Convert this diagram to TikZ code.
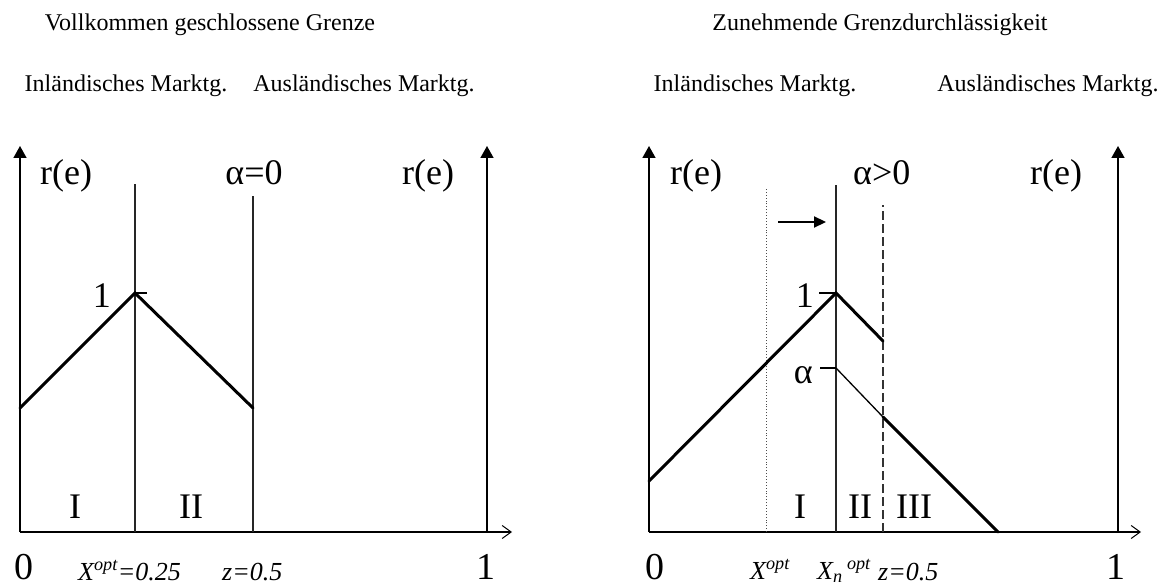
\documentclass[tikz,border=0pt]{standalone}
\usepackage{fontspec}
\setmainfont{Liberation Serif}
\usetikzlibrary{arrows.meta}
\begin{document}
\begin{tikzpicture}[x=1pt,y=-1pt,
  hdr/.style={inner sep=0pt, anchor=base, font=\fontsize{24}{28}\selectfont},
  big/.style={inner sep=0pt, anchor=base, font=\fontsize{36}{40}\selectfont},
  huge/.style={inner sep=0pt, anchor=base, font=\fontsize{38}{42}\selectfont},
  ital/.style={inner sep=0pt, anchor=base west, font=\fontsize{26}{30}\selectfont\itshape},
  yaxis/.style={line width=1.6pt, -{Triangle[length=12pt,width=13pt]}},
  xaxis/.style={line width=1.4pt, -{Straight Barb[length=9pt,width=13pt,line width=1pt]}},
  divider/.style={line width=1.4pt, black!85},
  tick/.style={line width=1.2pt},
  curve/.style={line width=3pt, line cap=round},
  thinc/.style={line width=1.3pt}]
\useasboundingbox (0,0) rectangle (1165,588);

% ---------- headers ----------
\node[hdr] (h1) at (210,31) {Vollkommen geschlossene Grenze};
\node[hdr] (h2) at (126,92) {Inländisches Marktg.};
\node[hdr] (h3) at (364,92) {Ausländisches Marktg.};
\node[hdr] (h4) at (880,31) {Zunehmende Grenzdurchlässigkeit};
\node[hdr] (h5) at (755,92) {Inländisches Marktg.};
\node[hdr] (h6) at (1048,92) {Ausländisches Marktg.};

% ---------- left diagram ----------
\coordinate (LO) at (20,532);
\coordinate (LT) at (20,146);
\coordinate (LR) at (512,532);
\coordinate (LRb) at (487,532);
\coordinate (LRt) at (487,146);
\coordinate (LXb) at (135,532);
\coordinate (LXt) at (135,184);
\coordinate (LZb) at (253,532);
\coordinate (LZt) at (253,196);
\coordinate (LA) at (20,408);
\coordinate (LP) at (135,293);
\coordinate (LB) at (253,408);
\coordinate (LTk) at (147,293);

\draw[yaxis] (LO) -- (LT);
\draw[yaxis] (LRb) -- (LRt);
\draw[xaxis] (LO) -- (LR);
\draw[divider] (LXb) -- (LXt);
\draw[divider] (LZb) -- (LZt);
\draw[tick] (LP) -- (LTk);
\draw[curve] (LA) -- (LP) -- (LB);

\node[big, anchor=base west] (lre1) at (40,185) {r(e)};
\node[big] (lalpha) at (254,185) {α=0};
\node[big, anchor=base west] (lre2) at (402,185) {r(e)};
\node[big, anchor=base east] (lone) at (111,307) {1};
\node[big] (lI) at (75,518) {I};
\node[big] (lII) at (191,518) {II};
\node[huge] (l0) at (24,579) {0};
\node[ital] (lxopt) at (78,580) {X\textsuperscript{opt}=0.25};
\node[ital] (lz) at (222,580) {z=0.5};
\node[huge] (l1) at (486,579) {1};

% ---------- right diagram ----------
\coordinate (RO) at (649,532);
\coordinate (RT) at (649,146);
\coordinate (RR) at (1141,532);
\coordinate (RRb) at (1118,532);
\coordinate (RRt) at (1118,146);
\coordinate (RDb) at (766,532);
\coordinate (RDt) at (766,187);
\coordinate (RNb) at (836,532);
\coordinate (RNt) at (836,185);
\coordinate (RZb) at (883,532);
\coordinate (RZt) at (883,205);
\coordinate (RA) at (649,481);
\coordinate (RP) at (836,293);
\coordinate (RQ) at (883,341);
\coordinate (Ral) at (836,368);
\coordinate (RS) at (883,417);
\coordinate (RE) at (998,532);
\coordinate (RTk1) at (819,293);
\coordinate (RTk2) at (820,368);
\coordinate (Rar1) at (778,222);
\coordinate (Rar2) at (826,222);

\draw[yaxis] (RO) -- (RT);
\draw[yaxis] (RRb) -- (RRt);
\draw[xaxis] (RO) -- (RR);
\draw[line width=0.9pt, dotted, black!70] (RDb) -- (RDt);
\draw[divider] (RNb) -- (RNt);
\draw[line width=1.3pt, dash pattern=on 9pt off 4pt, black!80] (RZb) -- (RZt);
\draw[tick] (RTk1) -- (RP);
\draw[tick] (RTk2) -- (Ral);
\draw[curve] (RA) -- (RP) -- (RQ);
\draw[thinc] (Ral) -- (RS);
\draw[curve] (RS) -- (RE);
\draw[line width=2.2pt, -{Triangle[length=12pt,width=11pt]}] (Rar1) -- (Rar2);

\node[big, anchor=base west] (rre1) at (670,185) {r(e)};
\node[big, anchor=base west] (ralpha) at (853,185) {α>0};
\node[big, anchor=base west] (rre2) at (1030,185) {r(e)};
\node[big, anchor=base east] (rone) at (814,307) {1};
\node[big, anchor=base east] (ralab) at (813,383) {α};
\node[big] (rI) at (800,518) {I};
\node[big] (rII) at (860,518) {II};
\node[big] (rIII) at (914,518) {III};
\node[huge] (r0) at (655,579) {0};
\node[ital] (rxopt) at (750,579) {X\textsuperscript{opt}};
\node[ital] (rxn) at (817,579) {X\textsubscript{n}\,\textsuperscript{opt}};
\node[ital] (rz) at (878,580) {z=0.5};
\node[huge] (r1) at (1116,579) {1};
\end{tikzpicture}
\end{document}
